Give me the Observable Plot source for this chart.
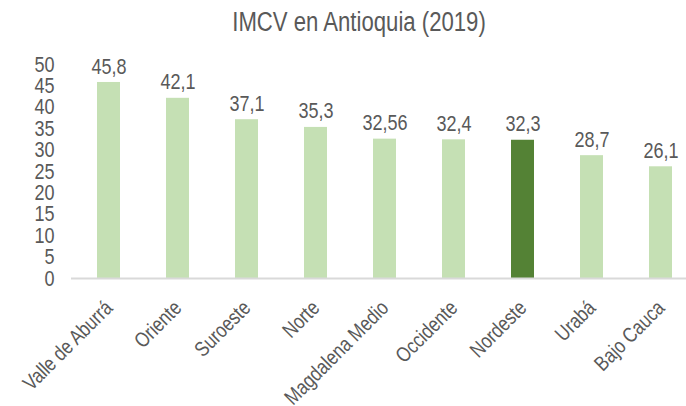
<!DOCTYPE html>
<html>
<head>
<meta charset="utf-8">
<script src="https://cdn.jsdelivr.net/npm/d3@7"></script>
<script src="https://cdn.jsdelivr.net/npm/@observablehq/plot@0.6"></script>
<style>
  html, body { margin: 0; padding: 0; background: #fff; width: 686px; height: 406px; overflow: hidden; }
  #wrap { position: relative; width: 686px; height: 406px; }
  #title { position: absolute; left: 0; top: 9px; width: 718px; text-align: center; line-height: 27px; font-family: "Liberation Sans", Arial, sans-serif; font-size: 27px; color: #595959; transform-origin: 359px 50%; transform: scaleX(0.82); white-space: nowrap; z-index: 2; }
  svg { position: absolute; left: 0; top: 0; }
</style>
</head>
<body>
<div id="wrap"><div id="title">IMCV en Antioquia (2019)</div></div>
<script>
const regions = ["Valle de Aburrá", "Oriente", "Suroeste", "Norte", "Magdalena Medio", "Occidente", "Nordeste", "Urabá", "Bajo Cauca"];
const values = [45.8, 42.1, 37.1, 35.3, 32.56, 32.4, 32.3, 28.7, 26.1];
const labels = ["45,8", "42,1", "37,1", "35,3", "32,56", "32,4", "32,3", "28,7", "26,1"];
const highlight = "Nordeste";
const yTicks = [0, 5, 10, 15, 20, 25, 30, 35, 40, 45, 50];

const data = regions.map((r, i) => ({region: r, value: values[i], label: labels[i]}));
const font = '"Liberation Sans", Arial, sans-serif';

const chart = Plot.plot({
  width: 686,
  height: 406,
  marginLeft: 71,
  marginRight: 0,
  marginTop: 64,
  marginBottom: 128,
  style: {fontFamily: font, color: "#595959", background: "transparent", overflow: "visible"},
  x: {domain: regions, range: [70.6, 698.4], paddingInner: 0.67, paddingOuter: 0.335, label: null},
  y: {domain: [0, 50], label: null},
  marks: [
    Plot.barY(data, {x: "region", y: "value", fill: d => d.region === highlight ? "#548235" : "#C5E0B4"}),
    Plot.ruleY([0], {stroke: "#D9D9D9", strokeWidth: 2}),
    Plot.text(data, {x: "region", y: "value", text: "label", dy: -16, fontSize: 22, fill: "#595959"}),
    Plot.axisY(yTicks, {tickSize: 0, tickPadding: 17, fontSize: 22, fill: "#595959", label: null, tickFormat: d => String(d)}),
    Plot.axisX({tickSize: 0, tickRotate: -45, tickPadding: 26, fontSize: 21, fill: "#595959", label: null})
  ]
});
// narrow the type (Arial Narrow look); each label is anchored at its own local origin
chart.querySelectorAll("text").forEach(t => {
  const T = t.getAttribute("transform") || "";
  t.setAttribute("transform", `${T} scale(0.82,1)`.trim());
});
document.getElementById("wrap").appendChild(chart);
</script>
</body>
</html>
